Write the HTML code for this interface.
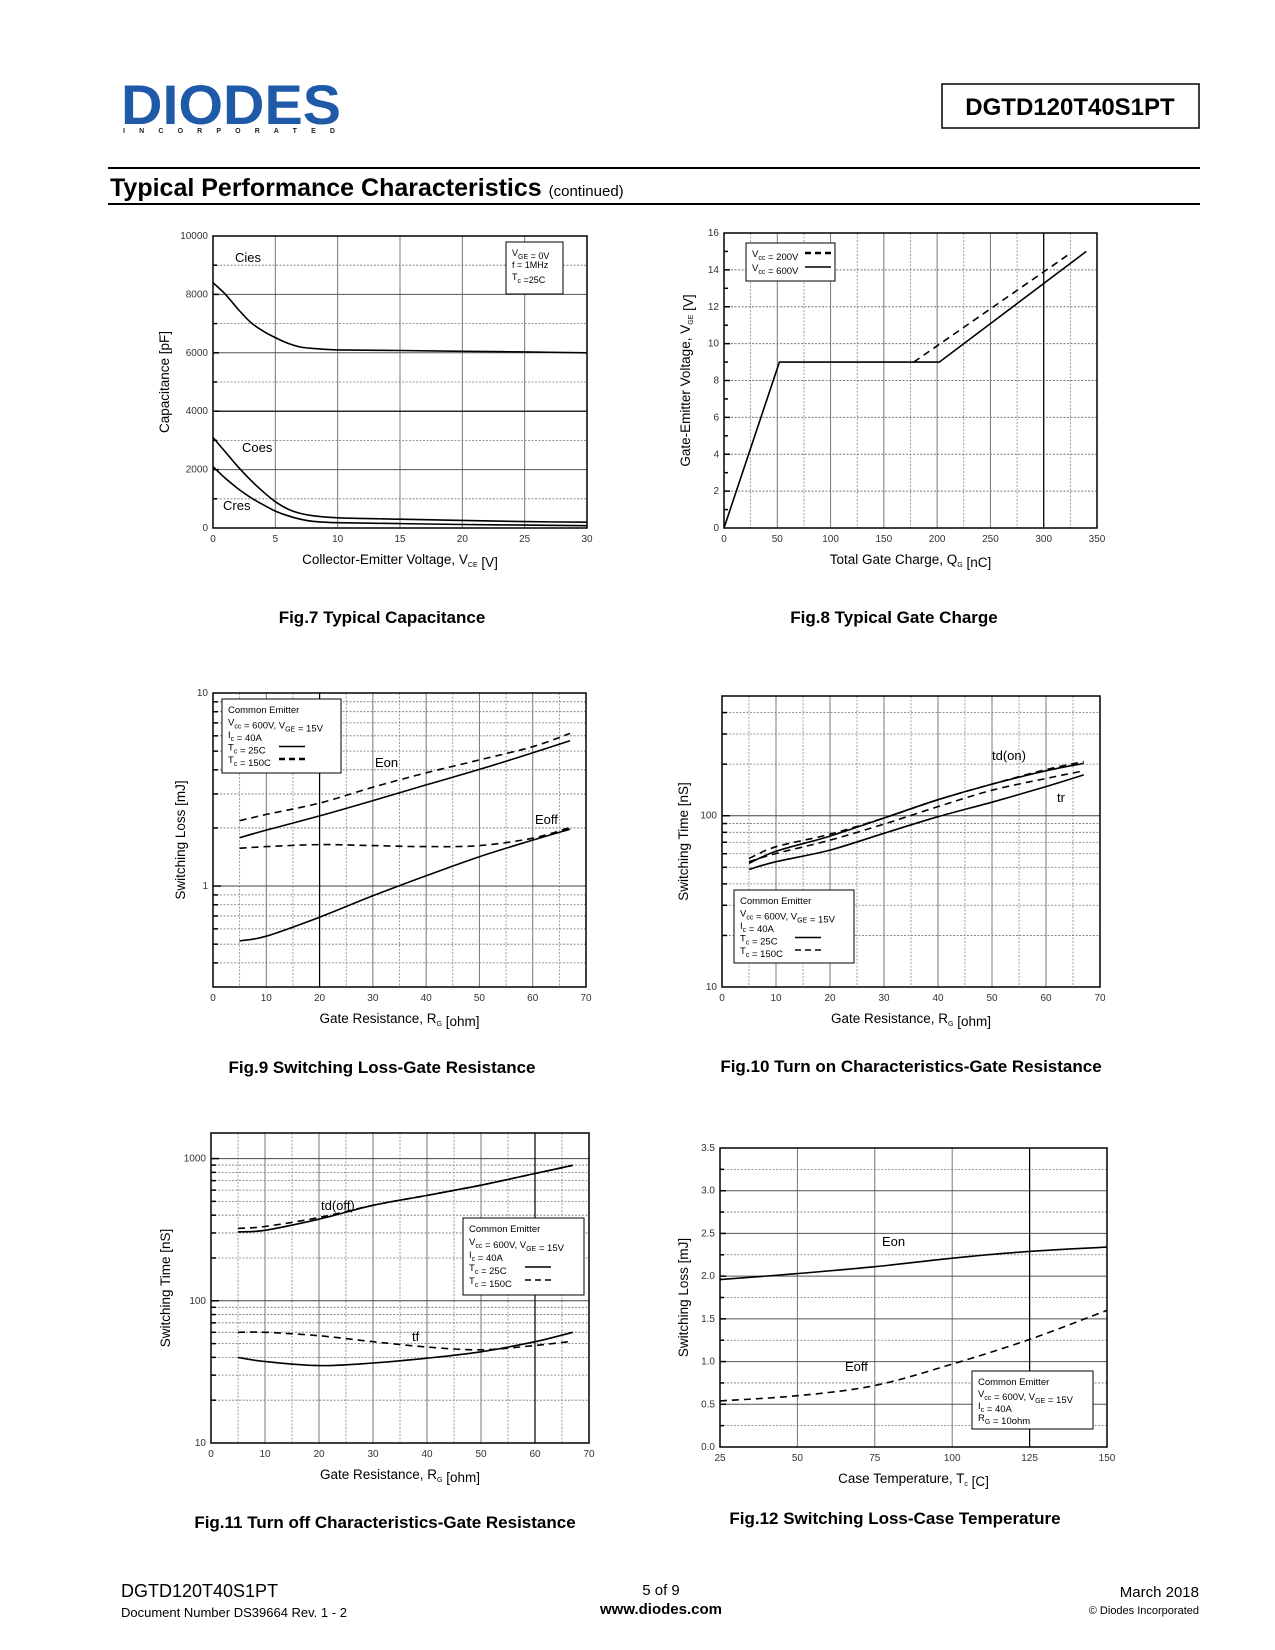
<!DOCTYPE html>
<html><head><meta charset="utf-8"><style>
html,body{margin:0;padding:0;background:#fff}
svg{display:block;font-family:"Liberation Sans",Arial,sans-serif}
</style></head><body>
<svg id="page" width="1275" height="1650" viewBox="0 0 1275 1650" xmlns="http://www.w3.org/2000/svg">
<g>
<text x="121" y="124" font-size="56" font-weight="bold" fill="#1e5aa8" textLength="220" lengthAdjust="spacingAndGlyphs">DIODES</text>
<text x="123" y="133" font-size="7" font-weight="bold" fill="#222" textLength="212" lengthAdjust="spacing">I N C O R P O R A T E D</text>
<rect x="942" y="84" width="257" height="44" fill="none" stroke="#000" stroke-width="1.5"/>
<text x="1070" y="115" font-size="24" font-weight="bold" text-anchor="middle">DGTD120T40S1PT</text>
<line x1="108" y1="168" x2="1200" y2="168" stroke="#000" stroke-width="2"/>
<text x="110" y="196" font-size="25" font-weight="bold">Typical Performance Characteristics <tspan font-size="15" font-weight="normal">(continued)</tspan></text>
<line x1="108" y1="204" x2="1200" y2="204" stroke="#000" stroke-width="2"/>
</g>
<g id="charts"></g>
<g font-size="17" font-weight="bold" text-anchor="middle">
<text x="382" y="623">Fig.7 Typical Capacitance</text>
<text x="894" y="623">Fig.8 Typical Gate Charge</text>
<text x="382" y="1073">Fig.9 Switching Loss-Gate Resistance</text>
<text x="911" y="1072">Fig.10 Turn on Characteristics-Gate Resistance</text>
<text x="385" y="1528">Fig.11 Turn off Characteristics-Gate Resistance</text>
<text x="895" y="1524">Fig.12 Switching Loss-Case Temperature</text>
</g>
<g>
<text x="121" y="1597" font-size="18">DGTD120T40S1PT</text>
<text x="121" y="1617" font-size="13">Document Number DS39664 Rev. 1 - 2</text>
<text x="661" y="1595" font-size="15" text-anchor="middle">5 of 9</text>
<text x="661" y="1614" font-size="15" font-weight="bold" text-anchor="middle">www.diodes.com</text>
<text x="1199" y="1597" font-size="15" text-anchor="end">March 2018</text>
<text x="1199" y="1614" font-size="11" text-anchor="end">© Diodes Incorporated</text>
</g>
</svg>
<script>
// Fig.7 data
const f7x = [0,1,2,3,4,5,6,7,8,10,15,20,25,30];
const f7cies = [8400,8000,7500,7050,6750,6520,6330,6200,6150,6100,6080,6050,6030,6000];
const f7coes = [3100,2600,2100,1650,1250,900,650,500,420,350,300,260,220,200];
const f7cres = [2100,1700,1350,1050,800,580,420,300,230,180,150,120,100,80];
// Fig.8 data
const f8q600 = [0,52,202,340];
const f8v600 = [0,9,9,15];
const f8q200 = [178,325];
const f8v200 = [9,14.9];
// Fig.9 data
const f9x = [5,10,20,30,40,50,60,67];
const f9eon25 = [1.78,1.95,2.31,2.77,3.34,4.02,4.9,5.66];
const f9eon150 = [2.18,2.35,2.69,3.25,3.86,4.5,5.27,6.18];
const f9eoff25 = [0.52,0.55,0.69,0.89,1.13,1.42,1.73,1.97];
const f9eoff150 = [1.57,1.6,1.64,1.62,1.6,1.62,1.77,2.01];
// Fig.10 data
const f10x = [5,10,20,30,40,50,60,67];
const f10tdon25 = [52.7,62,76,97,124,153,183,202];
const f10tdon150 = [56.3,65.9,78,97,124,153,186,207];
const f10tr25 = [48.6,53.9,63,79,98.7,120,148,173];
const f10tr150 = [53.9,60.2,72,89.4,113,141,165,183];
// Fig.11 data
const f11x = [5,10,20,30,40,50,60,67];
const f11tdoff25 = [305,313,375,469,551,650,785,897];
const f11tdoff150 = [323,333,385,469,551,650,785,897];
const f11tf25 = [40,37.4,35,36.5,39.5,43.8,51.6,60];
const f11tf150 = [60,60,56.8,51.6,47.3,45.2,48.5,52];
// Fig.12 data
const f12t = [25,50,75,100,125,150];
const f12eon = [1.96,2.03,2.11,2.21,2.29,2.34];
const f12eoff = [0.54,0.6,0.72,0.97,1.26,1.6];

const NS = 'http://www.w3.org/2000/svg';
const root = document.getElementById('charts');
function mk(tag, parent, attrs){const e=document.createElementNS(NS,tag);for(const k in attrs)e.setAttribute(k,attrs[k]);parent.appendChild(e);return e;}
function smoothPath(pts){
  if(pts.length<3){return 'M'+pts.map(p=>p[0].toFixed(1)+','+p[1].toFixed(1)).join('L');}
  let d='M'+pts[0][0].toFixed(1)+','+pts[0][1].toFixed(1);
  for(let i=0;i<pts.length-1;i++){
    const p0=pts[Math.max(0,i-1)],p1=pts[i],p2=pts[i+1],p3=pts[Math.min(pts.length-1,i+2)];
    const c1=[p1[0]+(p2[0]-p0[0])/6,p1[1]+(p2[1]-p0[1])/6];
    const c2=[p2[0]-(p3[0]-p1[0])/6,p2[1]-(p3[1]-p1[1])/6];
    d+='C'+c1[0].toFixed(1)+','+c1[1].toFixed(1)+' '+c2[0].toFixed(1)+','+c2[1].toFixed(1)+' '+p2[0].toFixed(1)+','+p2[1].toFixed(1);
  }
  return d;
}
function chart(c){
  const g=mk('g',root,{});
  
  
  const L=Math.log10;
  const sx=v=>c.x0+(v-c.xmin)/(c.xmax-c.xmin)*(c.x1-c.x0);
  const sy=c.ylog?(v=>c.y0-(L(v)-L(c.ymin))/(L(c.ymax)-L(c.ymin))*(c.y0-c.y1)):(v=>c.y0-(v-c.ymin)/(c.ymax-c.ymin)*(c.y0-c.y1));
  const grid=mk('g',g,{});
  
  
  for(let v=c.xmin+c.xMinor;v<c.xmax-1e-9;v+=c.xMinor){
    const major=Math.abs((v-c.xmin)/c.xMajor-Math.round((v-c.xmin)/c.xMajor))<1e-6;
    const X=sx(v);
    mk('line',grid,{x1:X,y1:c.y1,x2:X,y2:c.y0,stroke:major?'#777':'#888','stroke-width':major?1:0.8,'stroke-dasharray':major?'':'2,1.5'});
  }
  if(c.ylog){
    for(let d=Math.floor(L(c.ymin));d<=Math.ceil(L(c.ymax));d++){
      for(let m=1;m<10;m++){
        const v=m*Math.pow(10,d); if(v<=c.ymin*1.0001||v>=c.ymax*0.9999) continue;
        const Y=sy(v);
        mk('line',grid,{x1:c.x0,y1:Y,x2:c.x1,y2:Y,stroke:m===1?'#444':'#777','stroke-width':m===1?1:0.8,'stroke-dasharray':m===1?'':'2,1.5'});
        mk('line',grid,{x1:c.x0,y1:Y,x2:c.x0+(m===1?8:5),y2:Y,stroke:'#000','stroke-width':1.5});
      }
    }
  } else {
    for(let v=c.ymin+c.yMinor;v<c.ymax-1e-9;v+=c.yMinor){
      const major=Math.abs((v-c.ymin)/c.yMajor-Math.round((v-c.ymin)/c.yMajor))<1e-6;
      const Y=sy(v);
      if(major||c.minorLines) mk('line',grid,{x1:c.x0,y1:Y,x2:c.x1,y2:Y,stroke:major&&!c.dotMajor?'#555':'#777','stroke-width':major?1:0.8,'stroke-dasharray':(major&&!c.dotMajor)?'':'2,1.5'});
      mk('line',grid,{x1:c.x0,y1:Y,x2:c.x0+(major?6:4),y2:Y,stroke:'#000','stroke-width':1.5});
    }
  }
  (c.darkX||[]).forEach(v=>mk('line',grid,{x1:sx(v),y1:c.y1,x2:sx(v),y2:c.y0,stroke:'#000','stroke-width':1.2}));
  (c.darkY||[]).forEach(v=>mk('line',grid,{x1:c.x0,y1:sy(v),x2:c.x1,y2:sy(v),stroke:'#000','stroke-width':1.2}));
  const frame=mk('rect',g,{x:c.x0,y:c.y1,width:c.x1-c.x0,height:c.y0-c.y1,fill:'none',stroke:'#000','stroke-width':1.5});
  
  
  c.xTicks.forEach(t=>{
    const e=mk('text',g,{x:sx(t),y:c.y0+14,'font-size':10,'text-anchor':'middle',fill:'#333'});
    
    
    e.textContent=t;
  });
  c.yTicks.forEach((t,i)=>{
    const e=mk('text',g,{x:c.x0-5,y:sy(t)+3,'font-size':10,'text-anchor':'end',fill:'#333'});
    
    
    e.textContent=c.yTickText?c.yTickText[i]:t;
  });
  c.series.forEach(s=>{
    const pts=s.x.map((v,i)=>[sx(v),sy(s.y[i])]);
    const p=mk('path',g,{d:s.straight?('M'+pts.map(q=>q[0].toFixed(1)+','+q[1].toFixed(1)).join('L')):smoothPath(pts),fill:'none',stroke:'#000','stroke-width':1.6,'stroke-dasharray':s.dash?'7,5':''});
    
    
  });
  const xt=mk('text',g,{x:(c.x0+c.x1)/2,y:c.y0+36,'font-size':13.5,'text-anchor':'middle'});
  
  
  xt.innerHTML=c.xTitle;
  const yx=c.yTitleX, ym=(c.y0+c.y1)/2;
  const yt=mk('text',g,{x:yx,y:ym,'font-size':13.5,'text-anchor':'middle',transform:'rotate(-90 '+yx+' '+ym+')'});
  
  
  yt.innerHTML=c.yTitle;
  (c.labels||[]).forEach(l=>{
    const e=mk('text',g,{x:l[1],y:l[2],'font-size':13});
    
    
    e.textContent=l[0];
  });
  if(c.legend){
    const lg=mk('g',g,{});
    
    
    const b=c.legend;
    mk('rect',lg,{x:b.x,y:b.y,width:b.w,height:b.h,fill:'#fff',stroke:'#000','stroke-width':1});
    b.lines.forEach((ln,i)=>{
      const t=mk('text',lg,{x:b.x+6,y:b.y+14+i*b.lh,'font-size':b.fs||10});
      t.innerHTML=ln[0];
      if(ln[1]) mk('line',lg,{x1:b.sx,y1:b.y+10+i*b.lh,x2:b.sx+b.sw,y2:b.y+10+i*b.lh,stroke:'#000','stroke-width':ln[1]==='bd'?2.5:1.4,'stroke-dasharray':ln[1]==='s'?'':'6,4'});
    });
  }
}
const sub=(s)=>'<tspan font-size="7" dy="3">'+s+'</tspan><tspan dy="-3"></tspan>';
const comLines=[['Common Emitter'],['V'+sub('cc')+' = 600V,  V'+sub('GE')+' = 15V'],['I'+sub('c')+' = 40A'],['T'+sub('c')+' = 25C','s'],['T'+sub('c')+' = 150C','d']];

chart({name:'fig7-capacitance-chart',x0:213,x1:587,y0:528,y1:236,xmin:0,xmax:30,ymin:0,ymax:10000,xMajor:5,xMinor:5,yMajor:2000,yMinor:1000,minorLines:true,darkY:[4000],
  xTicks:[0,5,10,15,20,25,30],yTicks:[0,2000,4000,6000,8000,10000],
  xTitle:'Collector-Emitter Voltage, V'+sub('CE')+' [V]',yTitle:'Capacitance [pF]',yTitleX:169,
  series:[{name:'cies-line',x:f7x,y:f7cies},{name:'coes-line',x:f7x,y:f7coes},{name:'cres-line',x:f7x,y:f7cres}],
  labels:[['Cies',235,262],['Coes',242,452],['Cres',223,510]],
  legend:{x:506,y:242,w:57,h:52,lh:12,fs:9,lines:[['V'+sub('GE')+' = 0V'],['f = 1MHz'],['T'+sub('c')+' =25C']]}});

chart({name:'fig8-gate-charge-chart',x0:724,x1:1097,y0:528,y1:233,xmin:0,xmax:350,ymin:0,ymax:16,xMajor:50,xMinor:25,yMajor:2,yMinor:1,dotMajor:true,darkX:[300],
  xTicks:[0,50,100,150,200,250,300,350],yTicks:[0,2,4,6,8,10,12,14,16],
  xTitle:'Total Gate Charge, Q'+sub('G')+' [nC]',yTitle:'Gate-Emitter Voltage, V'+sub('GE')+'  [V]',yTitleX:690,
  series:[{name:'vcc-600v-line',x:f8q600,y:f8v600,straight:true},{name:'vcc-200v-line',x:f8q200,y:f8v200,straight:true,dash:true}],
  legend:{x:746,y:243,w:89,h:38,lh:14,fs:9.5,sx:805,sw:26,lines:[['V'+sub('cc')+' = 200V','bd'],['V'+sub('cc')+' = 600V','s']]}});

chart({name:'fig9-switching-loss-chart',x0:213,x1:586,y0:987,y1:693,xmin:0,xmax:70,ymin:0.3,ymax:10,ylog:true,xMajor:10,xMinor:5,
  xTicks:[0,10,20,30,40,50,60,70],yTicks:[1,10],darkX:[20],
  xTitle:'Gate Resistance, R'+sub('G')+' [ohm]',yTitle:'Switching Loss [mJ]',yTitleX:185,
  series:[{name:'eon-25c-line',x:f9x,y:f9eon25},{name:'eon-150c-line',x:f9x,y:f9eon150,dash:true},{name:'eoff-25c-line',x:f9x,y:f9eoff25},{name:'eoff-150c-line',x:f9x,y:f9eoff150,dash:true}],
  labels:[['Eon',375,767],['Eoff',535,824]],
  legend:{x:222,y:699,w:119,h:74,lh:12.5,fs:9.5,sx:279,sw:26,lines:comLines.map((l,i)=>i===4?[l[0],'bd']:l)}});

chart({name:'fig10-turn-on-chart',x0:722,x1:1100,y0:987,y1:696,xmin:0,xmax:70,ymin:10,ymax:500,ylog:true,xMajor:10,xMinor:5,
  xTicks:[0,10,20,30,40,50,60,70],yTicks:[10,100],
  xTitle:'Gate Resistance, R'+sub('G')+' [ohm]',yTitle:'Switching Time [nS]',yTitleX:688,
  series:[{name:'tdon-25c-line',x:f10x,y:f10tdon25},{name:'tdon-150c-line',x:f10x,y:f10tdon150,dash:true},{name:'tr-25c-line',x:f10x,y:f10tr25},{name:'tr-150c-line',x:f10x,y:f10tr150,dash:true}],
  labels:[['td(on)',992,760],['tr',1057,802]],
  legend:{x:734,y:890,w:120,h:73,lh:12.5,fs:9.5,sx:795,sw:26,lines:comLines}});

chart({name:'fig11-turn-off-chart',x0:211,x1:589,y0:1443,y1:1133,xmin:0,xmax:70,ymin:10,ymax:1513,ylog:true,xMajor:10,xMinor:5,
  xTicks:[0,10,20,30,40,50,60,70],yTicks:[10,100,1000],darkX:[60],
  xTitle:'Gate Resistance, R'+sub('G')+' [ohm]',yTitle:'Switching Time [nS]',yTitleX:170,
  series:[{name:'tdoff-25c-line',x:f11x,y:f11tdoff25},{name:'tdoff-150c-line',x:f11x,y:f11tdoff150,dash:true},{name:'tf-25c-line',x:f11x,y:f11tf25},{name:'tf-150c-line',x:f11x,y:f11tf150,dash:true}],
  labels:[['td(off)',321,1210],['tf',412,1341]],
  legend:{x:463,y:1218,w:121,h:77,lh:13,fs:9.5,sx:525,sw:26,lines:comLines}});

chart({name:'fig12-loss-temperature-chart',x0:720,x1:1107,y0:1447,y1:1148,xmin:25,xmax:150,ymin:0,ymax:3.5,xMajor:25,xMinor:25,yMajor:0.5,yMinor:0.25,minorLines:true,darkX:[125],
  xTicks:[25,50,75,100,125,150],yTicks:[0,0.5,1,1.5,2,2.5,3,3.5],yTickText:['0.0','0.5','1.0','1.5','2.0','2.5','3.0','3.5'],
  xTitle:'Case Temperature, T'+sub('c')+' [C]',yTitle:'Switching Loss [mJ]',yTitleX:688,
  series:[{name:'eon-line',x:f12t,y:f12eon},{name:'eoff-line',x:f12t,y:f12eoff,dash:true}],
  labels:[['Eon',882,1246],['Eoff',845,1371]],
  legend:{x:972,y:1371,w:121,h:58,lh:12,fs:9.5,lines:[['Common Emitter'],['V'+sub('cc')+' = 600V,  V'+sub('GE')+' = 15V'],['I'+sub('c')+' = 40A'],['R'+sub('G')+' = 10ohm']]}});
</script>
</body></html>
